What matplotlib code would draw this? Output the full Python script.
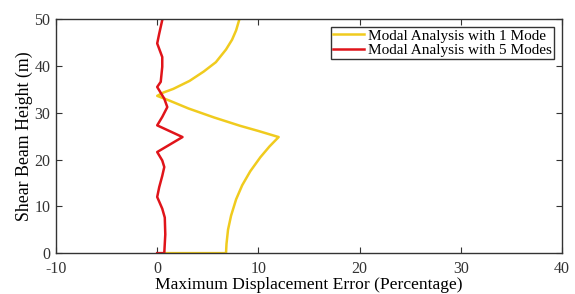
import matplotlib
matplotlib.use('Agg')
import matplotlib.pyplot as plt

# Modal analysis with 1 mode (error %, height m)
err1 = [0.7, 6.8, 6.85, 7.0, 7.3, 7.8, 8.4, 9.2, 10.2, 11.1, 12.0, 10.0, 8.2, 5.6, 3.1, 1.2, 0.0,
        0.6, 1.6, 3.2, 4.6, 5.8, 6.8, 7.4, 7.8, 8.1]
h1 = [0.0, 0.0, 2.0, 5.0, 8.0, 11.5, 14.5, 17.5, 20.5, 22.8, 24.8, 26.1, 27.2, 29.0, 30.9, 32.6, 33.6,
      34.3, 35.1, 36.8, 38.8, 40.8, 43.5, 45.6, 47.6, 49.8]

# Modal analysis with 5 modes
err5 = [0.0, 0.7, 0.8, 0.75, 0.5, 0.0, 0.2, 0.5, 0.7, 0.5, 0.0, 2.5, 0.0, 0.5, 1.0, 0.7, 0.0, 0.35,
        0.5, 0.5, 0.0, 0.2, 0.5]
h5 = [0.0, 0.0, 4.0, 7.6, 9.5, 12.0, 14.1, 16.5, 18.4, 19.8, 21.6, 24.8, 27.3, 29.1, 31.2, 33.0, 35.5,
      36.6, 39.8, 41.9, 44.8, 46.9, 49.8]

plt.rcParams['font.family'] = 'Liberation Serif'

fig = plt.figure(figsize=(5.75, 2.94), dpi=100)
ax = fig.add_axes([0.0974, 0.139, 0.8799, 0.796])

ax.plot(err1, h1, color='#F0CB1E', lw=1.8, label='Modal Analysis with 1 Mode')
ax.plot(err5, h5, color='#E0141A', lw=1.8, label='Modal Analysis with 5 Modes')

ax.set_xlim(-10, 40)
ax.set_ylim(0, 50)
ax.set_xticks([-10, 0, 10, 20, 30, 40])
ax.set_xticklabels(['-10', '0', '10', '20', '30', '40'])
ax.set_yticks([0, 10, 20, 30, 40, 50])
ax.tick_params(direction='in', top=True, right=True, labelsize=11.5, colors='#333333', length=4)
ax.tick_params(axis='x', pad=6)
ax.tick_params(axis='y', pad=4)
for s in ax.spines.values():
    s.set_color('#333333')
    s.set_linewidth(1.0)

ax.set_xlabel('Maximum Displacement Error (Percentage)', fontsize=12.6, labelpad=0)
ax.set_ylabel('Shear Beam Height (m)', fontsize=12.8, labelpad=1)

leg = ax.legend(loc='upper right', fontsize=11, fancybox=False, edgecolor='black',
                borderpad=0.15, handlelength=2.0, handletextpad=0.3, labelspacing=0.05,
                borderaxespad=0.5)
leg.get_frame().set_linewidth(1.0)

fig.savefig('out.png', dpi=100)
